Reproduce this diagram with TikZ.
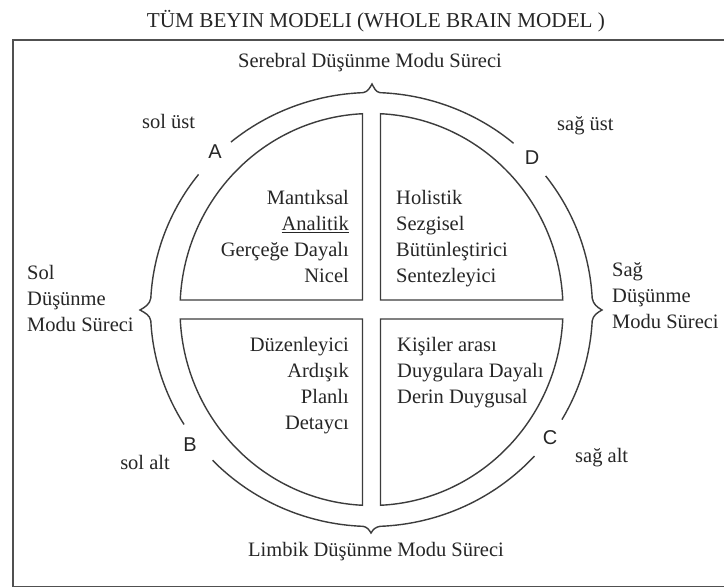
\documentclass[tikz,border=0pt]{standalone}
\usepackage{fontspec}
\setmainfont{Liberation Serif}
\newfontfamily\lettfont{Liberation Sans}
\definecolor{lineC}{HTML}{3C3C3C}
\definecolor{frameC}{HTML}{505050}
\definecolor{textC}{HTML}{262626}
\begin{document}
\begin{tikzpicture}[x=1pt,y=1pt,
  ln/.style={draw=lineC, line width=1.4pt},
  txt/.style={inner sep=0pt, text=textC, font=\fontsize{20.5}{26}\selectfont},
  lett/.style={inner sep=0pt, text=textC, font=\lettfont\fontsize{20}{24}\selectfont}]
\useasboundingbox (0,0) rectangle (724,-588);
\fill[white] (0,0) rectangle (724,-588);
\draw[draw=frameC, line width=1.5pt] (13,-40) rectangle (760,-586.5);

% title and process labels
\node[txt, font=\fontsize{21.2}{26}\selectfont, anchor=base] (title) at (376,-28) {TÜM BEYIN MODELI (WHOLE BRAIN MODEL )};
\node[txt, anchor=base] (serebral) at (370,-68) {Serebral Düşünme Modu Süreci};
\node[txt, anchor=base] (limbik) at (376,-556) {Limbik Düşünme Modu Süreci};
\node[txt, anchor=base west] (sol1) at (27,-280) {Sol};
\node[txt, anchor=base west] (sol2) at (27,-306) {Düşünme};
\node[txt, anchor=base west] (sol3) at (27,-332) {Modu Süreci};
\node[txt, anchor=base west] (sag1) at (612,-277) {Sağ};
\node[txt, anchor=base west] (sag2) at (612,-303) {Düşünme};
\node[txt, anchor=base west] (sag3) at (612,-329) {Modu Süreci};
\node[txt, anchor=base west] (solust) at (142,-129) {sol üst};
\node[txt, anchor=base west] (sagust) at (557,-131) {sağ üst};
\node[txt, anchor=base east] (solalt) at (170,-469) {sol alt};
\node[txt, anchor=base west] (sagalt) at (575,-463) {sağ alt};
\node[lett] (A) at (215,-152) {A};
\node[lett] (D) at (532,-158) {D};
\node[lett] (B) at (190,-445) {B};
\node[lett] (C) at (550,-438) {C};

% quadrant texts
\foreach \t [count=\i] in {Mantıksal, \underline{Analitik}, Gerçeğe Dayalı, Nicel}
  \node[txt, anchor=base east] (tl\i) at (349,{-205-26*(\i-1)}) {\t};
\foreach \t [count=\i] in {Holistik, Sezgisel, Bütünleştirici, Sentezleyici}
  \node[txt, anchor=base west] (tr\i) at (396,{-205-26*(\i-1)}) {\t};
\foreach \t [count=\i] in {Düzenleyici, Ardışık, Planlı, Detaycı}
  \node[txt, anchor=base east] (bl\i) at (349,{-352-26*(\i-1)}) {\t};
\foreach \t [count=\i] in {Kişiler arası, Duygulara Dayalı, Derin Duygusal}
  \node[txt, anchor=base west] (br\i) at (397,{-352-26*(\i-1)}) {\t};

\begin{scope}[shift={(371.5,-309.5)}]
  % inner quadrants
  \pgfmathsetmacro\tA{acos(9/191.5)}
  \pgfmathsetmacro\tB{asin(9.5/196)}
  \pgfmathsetmacro\tAl{180-\tA}
  \pgfmathsetmacro\tBl{180-\tB}
  \pgfmathsetmacro\tAb{180+\tA}
  \pgfmathsetmacro\tBb{180+\tB}
  \pgfmathsetmacro\tAr{360-\tA}
  \pgfmathsetmacro\tBr{360-\tB}
  \draw[ln] (9,9.5) -- (\tA:191.5 and 196) arc[start angle=\tA, end angle=\tB, x radius=191.5, y radius=196] -- cycle;
  \draw[ln] (-9,9.5) -- (\tAl:191.5 and 196) arc[start angle=\tAl, end angle=\tBl, x radius=191.5, y radius=196] -- cycle;
  \draw[ln] (-9,-9.5) -- (\tBb:191.5 and 196) arc[start angle=\tBb, end angle=\tAb, x radius=191.5, y radius=196] -- cycle;
  \draw[ln] (9,-9.5) -- (\tAr:191.5 and 196) arc[start angle=\tAr, end angle=\tBr, x radius=191.5, y radius=196] -- cycle;
  % outer braces
  \draw[ln] (50:221 and 217) arc[start angle=50, end angle=87.8, x radius=221, y radius=217]
     to[out=170,in=-60] (0.5,225.5) to[out=240,in=10] (92.2:221 and 217)
     arc[start angle=92.2, end angle=129.5, x radius=221, y radius=217];
  \draw[ln] (141.5:221 and 217) arc[start angle=141.5, end angle=177, x radius=221, y radius=217]
     to[out=260,in=30] (-231.5,-0.5) to[out=330,in=100] (183:221 and 217)
     arc[start angle=183, end angle=212, x radius=221, y radius=217];
  \draw[ln] (224:221 and 217) arc[start angle=224, end angle=267.8, x radius=221, y radius=217]
     to[out=350,in=120] (-0.5,-223.5) to[out=60,in=190] (272.2:221 and 217)
     arc[start angle=272.2, end angle=317.5, x radius=221, y radius=217];
  \draw[ln] (329.5:221 and 217) arc[start angle=329.5, end angle=357, x radius=221, y radius=217]
     to[out=80,in=210] (230.5,-0.5) to[out=150,in=280] (3:221 and 217)
     arc[start angle=3, end angle=38, x radius=221, y radius=217];
\end{scope}
\end{tikzpicture}
\end{document}
